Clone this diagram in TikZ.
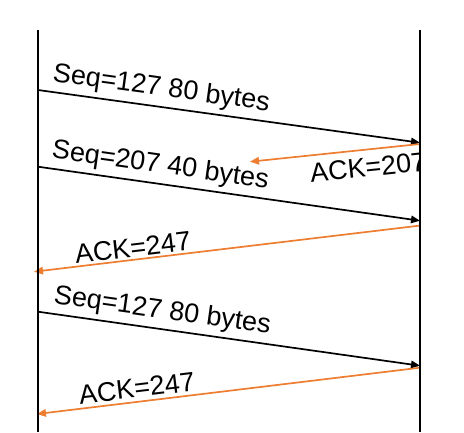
\documentclass[tikz,border=0pt]{standalone}
\usepackage{fontspec}
\setmainfont{Liberation Sans}
\usetikzlibrary{arrows.meta}
\definecolor{ackorange}{HTML}{ED7D31}
\begin{document}
\begin{tikzpicture}[x=1pt,y=-1pt,
  life/.style={line width=1.9pt,black},
  msg/.style={line width=1.7pt,black,-{Triangle[length=9pt,width=7.5pt]}},
  ack/.style={line width=1.7pt,ackorange,-{Triangle[length=9pt,width=7.5pt]}},
  lbl/.style={inner sep=0pt,anchor=base west,font=\fontsize{27}{32}\selectfont}]
\useasboundingbox (0,0) rectangle (464,432);
% lifelines
\coordinate (Ltop) at (38,30);  \coordinate (Lbot) at (38,432);
\coordinate (Rtop) at (420,30); \coordinate (Rbot) at (420,432);
% message end points
\coordinate (m1s) at (38,90);    \coordinate (m1e) at (420,142.7);
\coordinate (a1s) at (420,144);  \coordinate (a1e) at (250,161.7);
\coordinate (m2s) at (38,166.7); \coordinate (m2e) at (420,220.7);
\coordinate (a2s) at (419,225.7);\coordinate (a2e) at (34,271.7);
\coordinate (m3s) at (38,311.7); \coordinate (m3e) at (420,365.7);
\coordinate (a3s) at (420,367.7);\coordinate (a3e) at (37,414);
% labels
\node[lbl,rotate=-7.85] (t1) at (52,81) {Seq=127 80 bytes};
\begin{scope}
\clip (0,0) rectangle (419,432);
\node[lbl,rotate=5.9] (t2) at (311,182.5) {ACK=207};
\end{scope}
\node[lbl,rotate=-8.05] (t3) at (51,157.5) {Seq=207 40 bytes};
\node[lbl,rotate=6.8] (t4) at (76,264) {ACK=247};
\node[lbl,rotate=-8.05] (t5) at (53,303) {Seq=127 80 bytes};
\node[lbl,rotate=6.9] (t6) at (80,404.5) {ACK=247};
% arrows
\draw[msg] (m1s) -- (m1e);
\draw[ack] (a1s) -- (a1e);
\draw[msg] (m2s) -- (m2e);
\draw[ack] (a2s) -- (a2e);
\draw[msg] (m3s) -- (m3e);
\draw[ack] (a3s) -- (a3e);
% lifelines on top
\draw[life] (Ltop) -- (Lbot);
\draw[life] (Rtop) -- (Rbot);
\end{tikzpicture}
\end{document}
